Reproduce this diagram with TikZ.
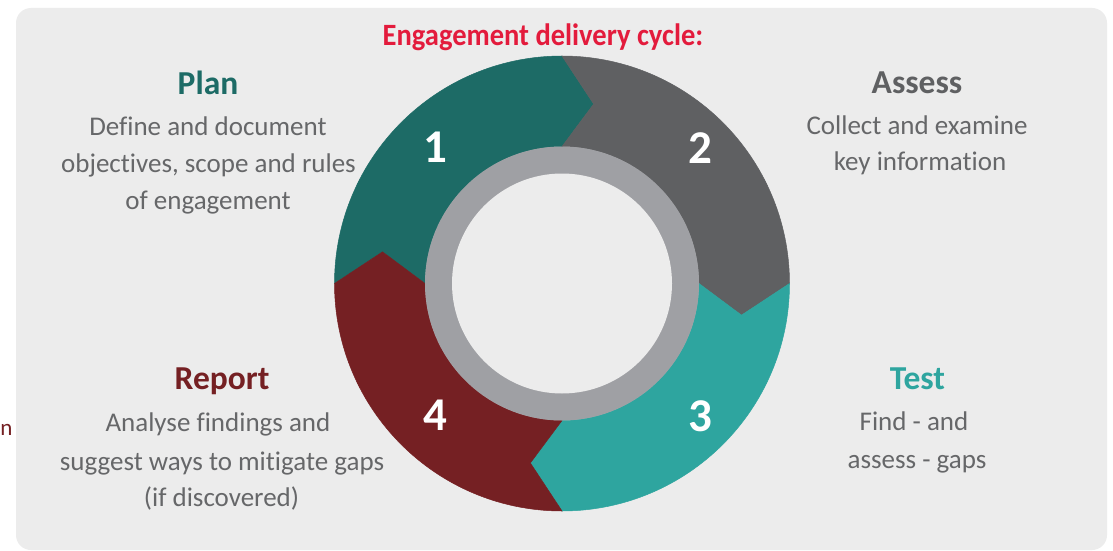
\documentclass[tikz,border=0pt]{standalone}
\usepackage{fontspec}
\setmainfont{Carlito}[Ligatures=NoCommon]
\newfontfamily\titlefont[FakeStretch=0.92]{Carlito}
\definecolor{bgc}{HTML}{ECECEC}
\definecolor{cplan}{HTML}{1D6B66}
\definecolor{cassess}{HTML}{5F6062}
\definecolor{ctest}{HTML}{2EA59F}
\definecolor{creport}{HTML}{752023}
\definecolor{cring}{HTML}{9FA0A4}
\definecolor{ctitle}{HTML}{E31B3C}
\definecolor{cbody}{HTML}{666769}
\tikzset{
  txt/.style={anchor=base, inner sep=0pt, outer sep=0pt},
  bodytext/.style={txt, text=cbody, font=\fontsize{27}{30}\selectfont},
  heading/.style={txt, font=\bfseries\fontsize{33.5}{36}\selectfont},
  titletext/.style={txt, text=ctitle, font=\titlefont\bfseries\fontsize{31}{34}\selectfont},
  num/.style={inner sep=0pt, text=white, font=\bfseries\fontsize{47}{47}\selectfont}
}
\begin{document}
\begin{tikzpicture}[x=1pt,y=1pt]
\useasboundingbox (0,0) rectangle (1113,-551);
\fill[white] (0,0) rectangle (1113,-551);
\fill[bgc, rounded corners=15pt] (16,-8) rectangle (1107,-550);
\coordinate (c) at (562,-283.5);
% ring segments (chevron arrows, clockwise)
\foreach \s/\col in {180/cplan, 90/cassess, 0/ctest, -90/creport}{
  \fill[\col, draw=\col, line width=0.5pt, line join=miter]
    ([shift={(\s:227.5)}]c) arc[start angle=\s, end angle=\s-90, radius=227.5]
    -- ([shift={(\s-100:182.25)}]c)
    -- ([shift={(\s-90:137)}]c) arc[start angle=\s-90, end angle=\s, radius=137]
    -- ([shift={(\s-10:182.25)}]c) -- cycle;
}
\fill[cring] (c) circle[radius=137];
\fill[bgc] (c) circle[radius=110];
% numbers
\node[num] (n1) at (435,-147.5) {1};
\node[num] (n2) at (700,-148) {2};
\node[num] (n3) at (700,-416) {3};
\node[num] (n4) at (435,-415.5) {4};
% title
\node[titletext] (title) at (543,-46) {Engagement delivery cycle:};
% Plan
\node[heading, text=cplan] (hplan) at (208,-94) {Plan};
\node[bodytext] (p1) at (208,-135) {Define and document};
\node[bodytext] (p2) at (208.5,-172) {objectives, scope and rules};
\node[bodytext] (p3) at (208,-209) {of engagement};
% Assess
\node[heading, text=cassess] (hassess) at (917,-93.3) {Assess};
\node[bodytext] (a1) at (917,-134) {Collect and examine};
\node[bodytext] (a2) at (920,-170) {key information};
% Report
\node[heading, text=creport] (hreport) at (222,-389) {Report};
\node[bodytext] (r1) at (218,-431) {Analyse findings and};
\node[bodytext] (r2) at (222,-470) {suggest ways to mitigate gaps};
\node[bodytext] (r3) at (221.5,-506) {(if discovered)};
% Test
\node[heading, text=ctest] (htest) at (917.5,-389) {Test};
\node[bodytext] (t1) at (914,-430) {Find - and};
\node[bodytext] (t2) at (917,-468) {assess - gaps};
% clipped fragment at the left edge
\node[txt, anchor=base west, text=creport, font=\fontsize{23}{26}\selectfont] (frag) at (0.5,-435) {n};
\end{tikzpicture}
\end{document}
